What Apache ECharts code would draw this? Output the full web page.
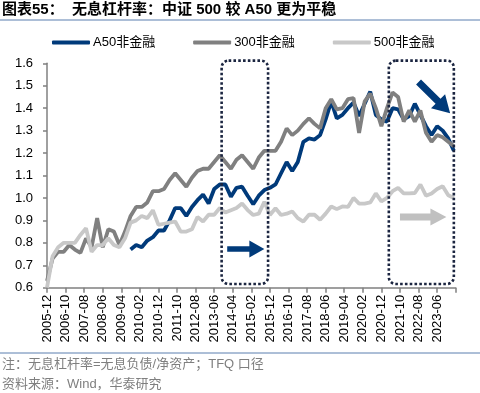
<!DOCTYPE html>
<html>
<head>
<meta charset="utf-8">
<script src="https://cdn.jsdelivr.net/npm/echarts@6/dist/echarts.min.js"></script>
<style>html,body{margin:0;padding:0;background:#fff;}#c{width:480px;height:393px;}</style>
</head>
<body>
<div id="c"></div>
<script>
// Quarterly observations starting 2005-12 (one value per quarter end)
const firstMonth = [2005, 12];
const lastMonth = [2024, 4];   // axis end
const a50 = [null,null,null,null,null,null,null,null,null,null,null,null,null,null,null,
  0.77,0.79,0.78,0.81,0.825,0.855,0.855,0.90,0.955,0.955,0.92,0.96,0.99,1.015,0.975,
  1.04,1.06,1.06,1.005,1.045,1.05,1.01,0.972,1.01,1.035,1.045,1.06,1.11,1.16,1.12,
  1.16,1.25,1.265,1.26,1.28,1.35,1.43,1.355,1.37,1.40,1.425,1.365,1.42,1.474,1.37,
  1.35,1.34,1.40,1.395,1.35,1.365,1.42,1.37,1.32,1.28,1.32,1.30,1.265,1.21];
const hs300 = [0.63,0.73,0.76,0.76,0.79,0.77,0.755,0.82,0.78,0.91,0.78,0.86,0.85,0.79,0.85,
  0.92,0.96,0.96,0.98,1.03,1.03,1.04,1.08,1.11,1.08,1.05,1.09,1.12,1.13,1.13,
  1.16,1.19,1.16,1.13,1.17,1.19,1.16,1.13,1.18,1.21,1.21,1.21,1.25,1.31,1.28,
  1.30,1.33,1.355,1.33,1.31,1.40,1.44,1.395,1.40,1.44,1.445,1.29,1.43,1.465,1.40,
  1.32,1.40,1.47,1.45,1.34,1.39,1.34,1.39,1.29,1.25,1.28,1.27,1.25,1.23];
const zz500 = [0.60,0.74,0.78,0.80,0.80,0.80,0.835,0.865,0.76,0.79,0.79,0.82,0.79,0.78,0.82,
  0.89,0.90,0.92,0.91,0.945,0.88,0.885,0.89,0.895,0.85,0.85,0.86,0.915,0.895,0.925,
  0.925,0.955,0.935,0.945,0.955,0.975,0.946,0.924,0.93,0.983,0.924,0.954,0.924,0.93,0.94,
  0.91,0.895,0.925,0.925,0.903,0.93,0.962,0.95,0.962,0.96,1.0,0.975,0.975,0.98,1.02,
  0.985,1.00,1.03,1.045,1.02,1.02,1.022,1.06,1.01,1.02,1.04,1.052,1.012,1.0];
const seriesNames = ['A50非金融', '300非金融', '500非金融'];
const yTicks = [0.6,0.7,0.8,0.9,1.0,1.1,1.2,1.3,1.4,1.5,1.6];

// monthly category axis
const months = [];
{
  let y = firstMonth[0], m = firstMonth[1];
  while (y < lastMonth[0] || (y === lastMonth[0] && m <= lastMonth[1])) {
    months.push(y + '-' + String(m).padStart(2, '0'));
    m++; if (m > 12) { m = 1; y++; }
  }
}
function toMonthly(q) {
  const arr = months.map(() => null);
  q.forEach((v, i) => { if (3 * i < arr.length) arr[3 * i] = v; });
  return arr;
}

// annotations (in data coordinates)
const boxes = [
  { from: ['2013-10', 1.612], to: ['2015-11', 0.6165] },
  { from: ['2021-04', 1.612], to: ['2024-03', 0.6165] }
];
const arrows = [
  { tail: ['2014-01', 0.7725], tip: ['2015-09', 0.7725], color: '#003A7A', w: 5.5, L: 15, H: 17 },
  { tail: ['2021-10', 0.915], tip: ['2023-11', 0.915], color: '#C0C0C0', w: 7, L: 16, H: 17 },
  { tail: ['2022-08', 1.517], tip: ['2024-01', 1.3775], color: '#003A7A', w: 7, L: 17, H: 20 }
];

const colors = ['#003A7A', '#808080', '#C8C8C8'];
const chart = echarts.init(document.getElementById('c'), null, { renderer: 'canvas' });
const font = 'Liberation Sans, Arial, Noto Sans CJK SC, sans-serif';

const option = {
  animation: false,
  backgroundColor: '#fff',
  color: colors,
  legend: {
    top: 31, left: 47,
    itemWidth: 38, itemHeight: 4, itemGap: 38,
    icon: 'roundRect',
    textStyle: { fontSize: 13, color: '#000', fontFamily: font, padding: [0, 0, 0, -2] },
    data: seriesNames
  },
  grid: { left: 47, right: 24.3, top: 63.3, bottom: 105.3, outerBoundsMode: 'none' },
  xAxis: {
    type: 'category',
    data: months,
    boundaryGap: false,
    axisLine: { lineStyle: { color: '#808080', width: 1.5 } },
    axisTick: { length: 5, lineStyle: { color: '#808080', width: 1.5 }, interval: (idx) => idx % 10 === 0 },
    axisLabel: {
      interval: (idx) => idx % 10 === 0 && idx < months.length - 1,
      rotate: 90, margin: 7, fontSize: 13, color: '#000', fontFamily: font
    },
    splitLine: { show: false }
  },
  yAxis: {
    type: 'value', min: 0.6, max: 1.6, interval: 0.1,
    axisLine: { show: true, lineStyle: { color: '#808080', width: 1.5 } },
    axisTick: { show: true, length: 4, lineStyle: { color: '#808080', width: 1.5 } },
    axisLabel: { fontSize: 13, color: '#000', fontFamily: font, margin: 14,
      formatter: (v) => (Math.round(v * 10) / 10).toFixed(1) },
    splitLine: { show: false }
  },
  series: [
    { name: seriesNames[0], type: 'line', data: toMonthly(a50), connectNulls: true, showSymbol: false, symbol: 'none',
      lineStyle: { width: 3.8, color: colors[0] } },
    { name: seriesNames[1], type: 'line', data: toMonthly(hs300), connectNulls: true, showSymbol: false, symbol: 'none',
      lineStyle: { width: 3.8, color: colors[1] } },
    { name: seriesNames[2], type: 'line', data: toMonthly(zz500), connectNulls: true, showSymbol: false, symbol: 'none',
      lineStyle: { width: 3.8, color: colors[2] } }
  ]
};
chart.setOption(option);

function px(p) { return chart.convertToPixel({ gridIndex: 0 }, p); }
function arrowPoints(p0, p1, w, L, H) {
  const dx = p1[0] - p0[0], dy = p1[1] - p0[1];
  const len = Math.hypot(dx, dy);
  const ux = dx / len, uy = dy / len, nx = -uy, ny = ux;
  const nk = [p1[0] - ux * L, p1[1] - uy * L];
  return [
    [p0[0] + nx * w / 2, p0[1] + ny * w / 2],
    [nk[0] + nx * w / 2, nk[1] + ny * w / 2],
    [nk[0] + nx * H / 2, nk[1] + ny * H / 2],
    [p1[0], p1[1]],
    [nk[0] - nx * H / 2, nk[1] - ny * H / 2],
    [nk[0] - nx * w / 2, nk[1] - ny * w / 2],
    [p0[0] - nx * w / 2, p0[1] - ny * w / 2]
  ];
}

const graphics = [];
boxes.forEach(b => {
  const a = px(b.from), c = px(b.to);
  graphics.push({
    type: 'rect', z: 10,
    shape: { x: a[0], y: a[1], width: c[0] - a[0], height: c[1] - a[1], r: 7 },
    style: { fill: null, stroke: '#1B2540', lineWidth: 2.6, lineDash: [2.6, 2.2], lineCap: 'butt' }
  });
});
arrows.forEach(ar => {
  graphics.push({
    type: 'polygon', z: 10,
    shape: { points: arrowPoints(px(ar.tail), px(ar.tip), ar.w, ar.L, ar.H) },
    style: { fill: ar.color, stroke: null }
  });
});
// title, rules and notes
graphics.push(
  { type: 'text', left: 2, top: 2, z: 10,
    style: { text: '图表55：  无息杠杆率：中证 500 较 A50 更为平稳', fontSize: 15, fontWeight: 'bold',
      fontFamily: font, fill: '#000' } },
  { type: 'line', z: 10, shape: { x1: 0, y1: 20, x2: 480, y2: 20 }, style: { stroke: '#5B7FAF', lineWidth: 1 } },
  { type: 'line', z: 10, shape: { x1: 0, y1: 353, x2: 480, y2: 353 }, style: { stroke: '#5B7FAF', lineWidth: 1 } },
  { type: 'text', left: 2, top: 358, z: 10,
    style: { text: '注：无息杠杆率=无息负债/净资产；TFQ 口径', fontSize: 13, fontFamily: font, fill: '#7F7F7F' } },
  { type: 'text', left: 2, top: 378, z: 10,
    style: { text: '资料来源：Wind，华泰研究', fontSize: 13, fontFamily: font, fill: '#7F7F7F' } }
);
chart.setOption({ graphic: graphics });
</script>
</body>
</html>
